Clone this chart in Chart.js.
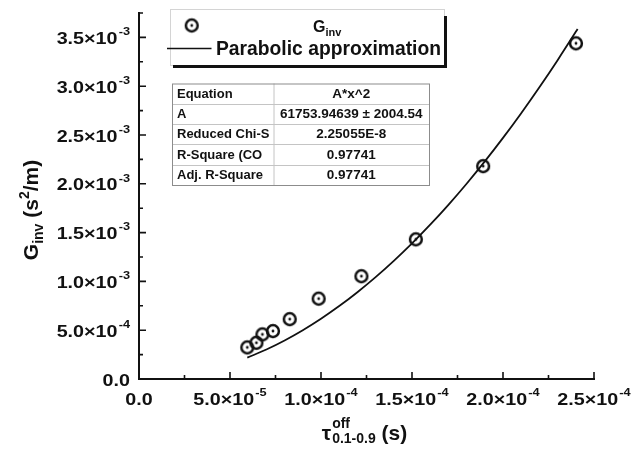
<!DOCTYPE html>
<html>
<head>
<meta charset="utf-8">
<script src="https://cdn.jsdelivr.net/npm/chart.js@4.4.0/dist/chart.umd.min.js"></script>
<style>
  html, body { margin: 0; padding: 0; background: #fff; }
  #wrap { width: 631px; height: 454px; position: relative; }
</style>
</head>
<body>
<div id="wrap"><canvas id="c" width="631" height="454"></canvas></div>
<script>
// Measured points: rise/fall time tau_off (s) vs inverse gain G_inv (s^2/m)
const tauOff = [59.5e-6, 64.5e-6, 67.8e-6, 73.6e-6, 82.8e-6, 98.7e-6, 122.2e-6, 152.1e-6, 189.1e-6, 240.1e-6];
const gInv   = [0.324e-3, 0.371e-3, 0.457e-3, 0.491e-3, 0.613e-3, 0.823e-3, 1.053e-3, 1.431e-3, 2.181e-3, 3.439e-3];

// Parabolic fit y = A*x^2 and its statistics
const fitA = 61753.94639;
const fitX = [59.5e-6, 70e-6, 80e-6, 90e-6, 100e-6, 110e-6, 120e-6, 130e-6, 140e-6, 150e-6,
              160e-6, 170e-6, 180e-6, 190e-6, 200e-6, 210e-6, 220e-6, 230e-6, 240e-6, 241e-6];
const tableRows = [
  ['Equation', 'A*x^2'],
  ['A', '61753.94639 \u00b1 2004.54'],
  ['Reduced Chi-S', '2.25055E-8'],
  ['R-Square (CO', '0.97741'],
  ['Adj. R-Square', '0.97741']
];

// Axis ticks
const xTickVals = [0, 5e-5, 1e-4, 1.5e-4, 2e-4, 2.5e-4];
const xTickMant = ['0.0', '5.0', '1.0', '1.5', '2.0', '2.5'];
const xTickExp  = ['', '-5', '-4', '-4', '-4', '-4'];
const xMinorVals = [2.5e-5, 7.5e-5, 1.25e-4, 1.75e-4, 2.25e-4];
const yTickVals = [0, 5e-4, 1e-3, 1.5e-3, 2e-3, 2.5e-3, 3e-3, 3.5e-3];
const yTickMant = ['0.0', '5.0', '1.0', '1.5', '2.0', '2.5', '3.0', '3.5'];
const yTickExp  = ['', '-4', '-3', '-3', '-3', '-3', '-3', '-3'];
const yMinorVals = [2.5e-4, 7.5e-4, 1.25e-3, 1.75e-3, 2.25e-3, 2.75e-3, 3.25e-3, 3.75e-3];

const FAM = '"Liberation Sans", Arial, sans-serif';
const INK = '#111';
const LABEL_STRETCH = 1.16;   // tick labels are set slightly wide

// Open circle with centre dot marker
function makeMarker() {
  const c = document.createElement('canvas');
  c.width = 18; c.height = 18;
  const g = c.getContext('2d');
  g.strokeStyle = INK; g.lineWidth = 2.5;
  g.beginPath(); g.arc(9, 9, 5.9, 0, Math.PI * 2); g.stroke();
  g.fillStyle = INK;
  g.beginPath(); g.arc(9, 9, 1.4, 0, Math.PI * 2); g.fill();
  return c;
}
const marker = makeMarker();

// Draws "m×10^e" with a raised exponent, stretched horizontally
function sciLabel(ctx, mant, exp, x, y, align, size) {
  const main = exp ? mant + '\u00d710' : mant;
  ctx.font = 'bold ' + size + 'px ' + FAM;
  const w1 = ctx.measureText(main).width;
  const supSize = Math.round(size * 0.65);
  ctx.font = 'bold ' + supSize + 'px ' + FAM;
  const w2 = exp ? ctx.measureText(exp).width + 1 : 0;
  const total = (w1 + w2) * LABEL_STRETCH;
  const x0 = align === 'right' ? x - total : (align === 'center' ? x - total / 2 : x);
  ctx.save();
  ctx.translate(x0, y);
  ctx.scale(LABEL_STRETCH, 1);
  ctx.textAlign = 'left';
  ctx.textBaseline = 'middle';
  ctx.font = 'bold ' + size + 'px ' + FAM;
  ctx.fillText(main, 0, 0);
  if (exp) {
    ctx.font = 'bold ' + supSize + 'px ' + FAM;
    ctx.fillText(exp, w1 + 1, -size * 0.42);
  }
  ctx.restore();
}

const decorations = {
  id: 'decorations',
  afterDraw(chart) {
    const ctx = chart.ctx;
    const xs = chart.scales.x, ys = chart.scales.y;
    const L = xs.getPixelForValue(xs.min), R = xs.getPixelForValue(xs.max);
    const B = ys.getPixelForValue(ys.min), T = ys.getPixelForValue(ys.max);
    ctx.save();
    ctx.fillStyle = INK;
    ctx.strokeStyle = INK;

    // axis lines
    ctx.lineWidth = 2;
    ctx.lineCap = 'square';
    ctx.beginPath();
    ctx.moveTo(L, T); ctx.lineTo(L, B); ctx.lineTo(R, B);
    ctx.stroke();
    ctx.lineCap = 'butt';

    // inward tick marks
    ctx.lineWidth = 1.6;
    ctx.beginPath();
    xTickVals.forEach(v => { const p = xs.getPixelForValue(v); if (v > xs.min) { ctx.moveTo(p, B); ctx.lineTo(p, B - 7); } });
    xMinorVals.forEach(v => { const p = xs.getPixelForValue(v); ctx.moveTo(p, B); ctx.lineTo(p, B - 4); });
    yTickVals.forEach(v => { const p = ys.getPixelForValue(v); if (v > ys.min) { ctx.moveTo(L, p); ctx.lineTo(L + 7, p); } });
    yMinorVals.forEach(v => { const p = ys.getPixelForValue(v); ctx.moveTo(L, p); ctx.lineTo(L + 4, p); });
    ctx.stroke();

    // tick labels
    xTickVals.forEach((v, i) => sciLabel(ctx, xTickMant[i], xTickExp[i], xs.getPixelForValue(v), B + 21, 'center', 17));
    yTickVals.forEach((v, i) => sciLabel(ctx, yTickMant[i], yTickExp[i], L - 9, ys.getPixelForValue(v) + 2, 'right', 17));

    // x axis title: tau with stacked super/subscript
    ctx.textBaseline = 'alphabetic';
    ctx.textAlign = 'left';
    ctx.font = 'bold 21px ' + FAM;
    const tauW = ctx.measureText('\u03c4').width;
    ctx.font = 'bold 14px ' + FAM;
    const subW = ctx.measureText('0.1-0.9').width;
    ctx.font = 'bold 21px ' + FAM;
    const unitW = ctx.measureText(' (s)').width;
    const xtTotal = tauW + 1 + subW + unitW;
    const tx = (L + R) / 2 - xtTotal / 2 - 2;
    const tyBase = 440;
    ctx.fillText('\u03c4', tx, tyBase);
    ctx.font = 'bold 14px ' + FAM;
    ctx.fillText('off', tx + tauW + 1, tyBase - 12);
    ctx.fillText('0.1-0.9', tx + tauW + 1, tyBase + 3);
    ctx.font = 'bold 21px ' + FAM;
    ctx.fillText(' (s)', tx + tauW + 1 + subW, tyBase);

    // y axis title: G_inv (s^2/m), rotated
    ctx.save();
    ctx.translate(38, (T + B) / 2 + 14);
    ctx.rotate(-Math.PI / 2);
    const parts = [
      ['G', 21, 0], ['inv', 14, 5], [' (s', 21, 0], ['2', 14, -9], ['/m)', 21, 0]
    ];
    let tw = 0;
    parts.forEach(p => { ctx.font = 'bold ' + p[1] + 'px ' + FAM; tw += ctx.measureText(p[0]).width; });
    let px = -tw / 2;
    parts.forEach(p => {
      ctx.font = 'bold ' + p[1] + 'px ' + FAM;
      ctx.fillText(p[0], px, p[2]);
      px += ctx.measureText(p[0]).width;
    });
    ctx.restore();

    // legend box with drop shadow
    const lx0 = 170, lx1 = 444, ly0 = 9, ly1 = 65;
    ctx.fillStyle = '#fff';
    ctx.fillRect(lx0, ly0, lx1 - lx0, ly1 - ly0);
    ctx.strokeStyle = '#d4d4d4'; ctx.lineWidth = 1;
    ctx.strokeRect(lx0 + 0.5, ly0 + 0.5, lx1 - lx0, ly1 - ly0);
    ctx.fillStyle = INK;
    ctx.fillRect(lx1, ly0 + 7, 3, ly1 - ly0 - 4);
    ctx.fillRect(lx0 + 3, ly1, lx1 - lx0, 3);
    ctx.drawImage(marker, 191.7 - 9, 25.5 - 9);
    ctx.font = 'bold 16px ' + FAM;
    ctx.fillText('G', 313, 31.5);
    const gw = ctx.measureText('G').width;
    ctx.font = 'bold 11px ' + FAM;
    ctx.fillText('inv', 313 + gw, 35.5);
    ctx.strokeStyle = INK; ctx.lineWidth = 1.6;
    ctx.beginPath(); ctx.moveTo(167, 48.5); ctx.lineTo(211.5, 48.5); ctx.stroke();
    ctx.font = 'bold 19.3px ' + FAM;
    ctx.fillText('Parabolic approximation', 216, 55);

    // fit statistics table
    const tX0 = 172, tX1 = 429, tXm = 273.5, tY0 = 83.5, rowH = 20.3;
    const tY1 = tY0 + rowH * tableRows.length;
    ctx.fillStyle = '#fff';
    ctx.fillRect(tX0, tY0, tX1 - tX0, tY1 - tY0);
    ctx.strokeStyle = '#c4c4c4'; ctx.lineWidth = 1;
    ctx.beginPath();
    for (let i = 1; i < tableRows.length; i++) {
      const yy = Math.round(tY0 + rowH * i) + 0.5;
      ctx.moveTo(tX0, yy); ctx.lineTo(tX1, yy);
    }
    ctx.moveTo(tXm + 0.5, tY0); ctx.lineTo(tXm + 0.5, tY1);
    ctx.stroke();
    ctx.strokeStyle = '#8c8c8c';
    ctx.strokeRect(tX0 + 0.5, tY0 + 0.5, tX1 - tX0, tY1 - tY0);
    ctx.fillStyle = INK;
    ctx.textBaseline = 'middle';
    tableRows.forEach((r, i) => {
      const cy = tY0 + rowH * i + rowH / 2 + 0.5;
      ctx.font = 'bold 13px ' + FAM;
      ctx.textAlign = 'left';
      ctx.fillText(r[0], tX0 + 5, cy);
      ctx.font = 'bold 13.5px ' + FAM;
      ctx.textAlign = 'center';
      ctx.fillText(r[1], (tXm + tX1) / 2, cy);
    });

    ctx.restore();
  }
};

new Chart(document.getElementById('c'), {
  type: 'scatter',
  data: {
    datasets: [
      {
        label: 'Parabolic approximation',
        data: fitX.map(x => ({ x: x, y: fitA * x * x })),
        showLine: true,
        borderColor: INK,
        borderWidth: 1.8,
        pointRadius: 0,
        cubicInterpolationMode: 'monotone',
        order: 2
      },
      {
        label: 'G_inv',
        data: tauOff.map((x, i) => ({ x: x, y: gInv[i] })),
        pointStyle: marker,
        pointRadius: 8,
        showLine: false,
        order: 1
      }
    ]
  },
  options: {
    responsive: false,
    animation: false,
    devicePixelRatio: 1,
    layout: { padding: { left: 139, right: 37, top: 13, bottom: 75 } },
    plugins: { legend: { display: false }, tooltip: { enabled: false } },
    scales: {
      x: { type: 'linear', min: 0, max: 2.5e-4, display: false },
      y: { type: 'linear', min: 0, max: 3.75e-3, display: false }
    }
  },
  plugins: [decorations]
});
</script>
</body>
</html>
